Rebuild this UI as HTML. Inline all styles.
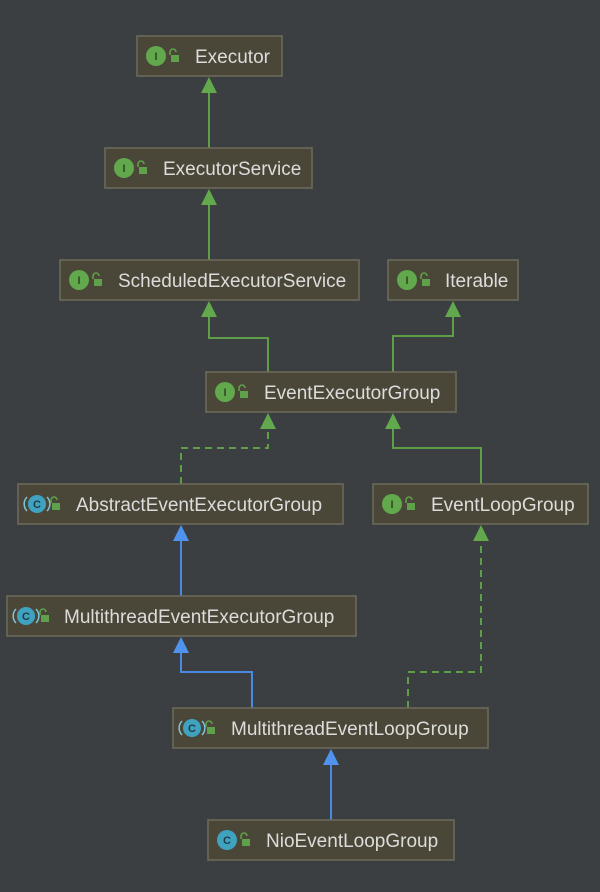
<!DOCTYPE html>
<html><head><meta charset="utf-8"><style>
html,body{margin:0;padding:0;background:#3c3f41;}
svg{display:block}
text{font-family:"Liberation Sans",sans-serif;}
</style></head><body>
<svg width="600" height="892" viewBox="0 0 600 892" xmlns="http://www.w3.org/2000/svg">
<rect width="600" height="892" fill="#3c3f41"/>
<defs>
<g id="lock"><rect x="-3" y="-1" width="8" height="7" fill="#5fa04a"/><path d="M-4 -1 v-3 a3 3 0 0 1 6 0" fill="none" stroke="#5fa04a" stroke-width="1.6"/></g>
</defs>
<g stroke-width="2" fill="none">
<path d="M209 148V90 M209 260V202 M268 372V338H209V314 M393 372V336H453V314 M481 484V448H393V426" stroke="#5f9e48"/>
<path d="M181 484V448H268V426 M408 708V672H481V538" stroke="#5f9e48" stroke-dasharray="7,5"/>
<path d="M181 596V538 M252 708V672H181V650 M331 820V762" stroke="#4a8ae0"/>
</g>
<g fill="#62a84c">
<path d="M209 77l-8 16h16z"/><path d="M209 189l-8 16h16z"/><path d="M209 301l-8 16h16z"/>
<path d="M453 301l-8 16h16z"/><path d="M268 413l-8 16h16z"/><path d="M393 413l-8 16h16z"/>
<path d="M481 525l-8 16h16z"/>
</g>
<g fill="#4f93ee">
<path d="M181 525l-8 16h16z"/><path d="M181 637l-8 16h16z"/><path d="M331 749l-8 16h16z"/>
</g>
<g stroke="#6e6b5c" stroke-width="1.5" fill="#4a4638">
<rect x="137" y="36" width="145" height="40"/>
<rect x="105" y="148" width="207" height="40"/>
<rect x="60" y="260" width="299" height="40"/>
<rect x="388" y="260" width="130" height="40"/>
<rect x="206" y="372" width="250" height="40"/>
<rect x="18" y="484" width="325" height="40"/>
<rect x="373" y="484" width="215" height="40"/>
<rect x="7" y="596" width="349" height="40"/>
<rect x="173" y="708" width="315" height="40"/>
<rect x="208" y="820" width="246" height="40"/>
</g>
<g>
<g transform="translate(156,56)"><circle r="10" fill="#62a84c"/><text y="4" text-anchor="middle" font-size="11" font-weight="bold" fill="#2e4a22">I</text><use href="#lock" x="18"/></g>
<g transform="translate(124,168)"><circle r="10" fill="#62a84c"/><text y="4" text-anchor="middle" font-size="11" font-weight="bold" fill="#2e4a22">I</text><use href="#lock" x="18"/></g>
<g transform="translate(79,280)"><circle r="10" fill="#62a84c"/><text y="4" text-anchor="middle" font-size="11" font-weight="bold" fill="#2e4a22">I</text><use href="#lock" x="18"/></g>
<g transform="translate(407,280)"><circle r="10" fill="#62a84c"/><text y="4" text-anchor="middle" font-size="11" font-weight="bold" fill="#2e4a22">I</text><use href="#lock" x="18"/></g>
<g transform="translate(225,392)"><circle r="10" fill="#62a84c"/><text y="4" text-anchor="middle" font-size="11" font-weight="bold" fill="#2e4a22">I</text><use href="#lock" x="18"/></g>
<g transform="translate(392,504)"><circle r="10" fill="#62a84c"/><text y="4" text-anchor="middle" font-size="11" font-weight="bold" fill="#2e4a22">I</text><use href="#lock" x="18"/></g>
<g transform="translate(37,504)"><circle r="9" fill="#3fa3c0"/><path d="M-10 -7a10 10 0 0 0 0 14M10 -7a10 10 0 0 1 0 14" stroke="#7fc4d8" stroke-width="1.5" fill="none"/><text y="4" text-anchor="middle" font-size="11" font-weight="bold" fill="#1e3b4a">C</text><use href="#lock" x="18"/></g>
<g transform="translate(26,616)"><circle r="9" fill="#3fa3c0"/><path d="M-10 -7a10 10 0 0 0 0 14M10 -7a10 10 0 0 1 0 14" stroke="#7fc4d8" stroke-width="1.5" fill="none"/><text y="4" text-anchor="middle" font-size="11" font-weight="bold" fill="#1e3b4a">C</text><use href="#lock" x="18"/></g>
<g transform="translate(192,728)"><circle r="9" fill="#3fa3c0"/><path d="M-10 -7a10 10 0 0 0 0 14M10 -7a10 10 0 0 1 0 14" stroke="#7fc4d8" stroke-width="1.5" fill="none"/><text y="4" text-anchor="middle" font-size="11" font-weight="bold" fill="#1e3b4a">C</text><use href="#lock" x="18"/></g>
<g transform="translate(227,840)"><circle r="10" fill="#3fa3c0"/><text y="4" text-anchor="middle" font-size="11" font-weight="bold" fill="#1e3b4a">C</text><use href="#lock" x="18"/></g>
</g>
<g fill="#dcdcdc" font-size="19">
<text x="195" y="63">Executor</text>
<text x="163" y="175">ExecutorService</text>
<text x="118" y="287">ScheduledExecutorService</text>
<text x="445" y="287">Iterable</text>
<text x="264" y="399">EventExecutorGroup</text>
<text x="76" y="511">AbstractEventExecutorGroup</text>
<text x="431" y="511">EventLoopGroup</text>
<text x="64" y="623">MultithreadEventExecutorGroup</text>
<text x="231" y="735">MultithreadEventLoopGroup</text>
<text x="266" y="847">NioEventLoopGroup</text>
</g>
</svg>
</body></html>
